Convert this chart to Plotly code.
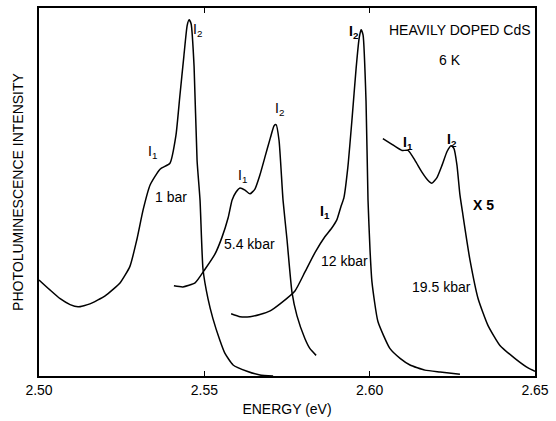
import plotly.graph_objects as go

# ---- data (energy in eV, intensity in arbitrary units) ----
e_1bar = [2.5000, 2.5033, 2.5064, 2.5094, 2.5118, 2.5154, 2.5200, 2.5245, 2.5275, 2.5296,
          2.5315, 2.5336, 2.5366, 2.5396, 2.5414, 2.5426, 2.5438, 2.5448, 2.5454, 2.5460,
          2.5469, 2.5478, 2.5487, 2.5496, 2.5511, 2.5526, 2.5547, 2.5562, 2.5587, 2.5629,
          2.5668, 2.5708]
i_1bar = [26.1, 23.4, 21.0, 19.4, 18.8, 19.6, 21.8, 25.3, 29.8, 37.1,
          45.2, 51.9, 56.2, 57.8, 65.3, 76.1, 86.8, 95.2, 96.8, 95.7,
          84.1, 58.6, 47.8, 29.0, 21.0, 15.6, 9.7, 6.2, 3.0, 1.3,
          0.3, 0.0]

e_5kbar = [2.5408, 2.5435, 2.5472, 2.5502, 2.5532, 2.5553, 2.5572, 2.5584, 2.5596, 2.5608,
           2.5623, 2.5638, 2.5653, 2.5668, 2.5683, 2.5699, 2.5711, 2.5717, 2.5726, 2.5738,
           2.5750, 2.5765, 2.5780, 2.5804, 2.5819, 2.5838]
i_5kbar = [24.5, 24.2, 25.3, 29.0, 33.1, 37.6, 43.0, 47.8, 50.0, 51.1,
           50.5, 49.5, 50.8, 54.6, 59.4, 64.5, 68.0, 68.3, 64.0, 47.8,
           37.1, 22.8, 16.4, 10.2, 7.5, 5.6]

e_12kbar = [2.5581, 2.5608, 2.5638, 2.5668, 2.5699, 2.5729, 2.5774, 2.5804, 2.5835, 2.5865,
            2.5886, 2.5901, 2.5913, 2.5922, 2.5934, 2.5947, 2.5959, 2.5968, 2.5974, 2.5980,
            2.5989, 2.5995, 2.6001, 2.6007, 2.6025, 2.6061, 2.6092, 2.6122, 2.6167, 2.6213, 2.6273]
i_12kbar = [16.9, 16.1, 16.1, 16.7, 17.7, 19.6, 23.1, 28.2, 33.6, 37.9,
            40.3, 42.5, 46.0, 48.4, 56.7, 70.2, 83.6, 91.7, 94.1, 92.7,
            74.7, 47.8, 34.4, 25.5, 14.8, 7.5, 4.8, 3.0, 1.6, 1.1, 0.5]

e_19kbar = [2.6040, 2.6077, 2.6098, 2.6116, 2.6137, 2.6158, 2.6176, 2.6188, 2.6204, 2.6219,
            2.6234, 2.6246, 2.6255, 2.6264, 2.6273, 2.6282, 2.6291, 2.6303, 2.6328, 2.6358,
            2.6394, 2.6439, 2.6479, 2.6500]
i_19kbar = [64.5, 62.4, 61.3, 61.3, 58.6, 55.4, 53.2, 52.4, 54.0, 57.3,
            61.0, 62.6, 61.8, 57.3, 49.2, 43.8, 38.4, 31.7, 21.0, 13.7,
            8.3, 4.8, 2.2, 1.3]

x_ticks = [2.50, 2.55, 2.60, 2.65]
x_tick_labels = ["2.50", "2.55", "2.60", "2.65"]

FONT = "Liberation Sans, Arial, sans-serif"

fig = go.Figure()
for xs, ys, name in [(e_1bar, i_1bar, "1 bar"), (e_5kbar, i_5kbar, "5.4 kbar"),
                     (e_12kbar, i_12kbar, "12 kbar"), (e_19kbar, i_19kbar, "19.5 kbar")]:
    fig.add_trace(go.Scatter(x=xs, y=ys, mode="lines", name=name,
                             line=dict(color="black", width=1.5, shape="spline", smoothing=0.5),
                             showlegend=False, hoverinfo="x+y+name"))

labels = [
    (2.5478, 94.1, "I<sub>2</sub>", False),
    (2.5342, 60.8, "I<sub>1</sub>", False),
    (2.5399, 48.7, "1 bar", False),
    (2.5614, 54.3, "I<sub>1</sub>", False),
    (2.5726, 72.6, "I<sub>2</sub>", False),
    (2.5638, 36.0, "5.4 kbar", False),
    (2.5865, 44.6, "I<sub>1</sub>", True),
    (2.5925, 31.2, "12 kbar", False),
    (2.5953, 93.5, "I<sub>2</sub>", True),
    (2.6273, 94.1, "HEAVILY DOPED CdS", False),
    (2.6243, 86.0, "6 K", False),
    (2.6116, 63.4, "I<sub>1</sub>", True),
    (2.6249, 64.0, "I<sub>2</sub>", True),
    (2.6343, 46.5, "X 5", True),
    (2.6216, 24.2, "19.5 kbar", False),
]
for x, y, t, b in labels:
    fig.add_annotation(x=x, y=y, text=f"<b>{t}</b>" if b else t, showarrow=False,
                       font=dict(family=FONT, size=14, color="black"),
                       xanchor="center", yanchor="middle")

fig.update_layout(
    width=556, height=421,
    margin=dict(l=39, r=21, t=6, b=43),
    paper_bgcolor="white", plot_bgcolor="white",
    font=dict(family=FONT, size=14, color="black"),
    xaxis=dict(range=[2.50, 2.65], tickvals=x_ticks, ticktext=x_tick_labels,
               ticks="inside", ticklen=5, tickwidth=1.2, tickcolor="black",
               showline=True, linecolor="black", linewidth=1.5, mirror="ticks",
               showgrid=False, zeroline=False,
               title=dict(text="ENERGY (eV)", standoff=8, font=dict(size=14)),
               tickfont=dict(size=14)),
    yaxis=dict(range=[0, 100], showticklabels=False, ticks="",
               showline=True, linecolor="black", linewidth=1.5, mirror=True,
               showgrid=False, zeroline=False,
               title=dict(text="PHOTOLUMINESCENCE INTENSITY", standoff=10, font=dict(size=14))),
)

fig.write_html("out.html")
